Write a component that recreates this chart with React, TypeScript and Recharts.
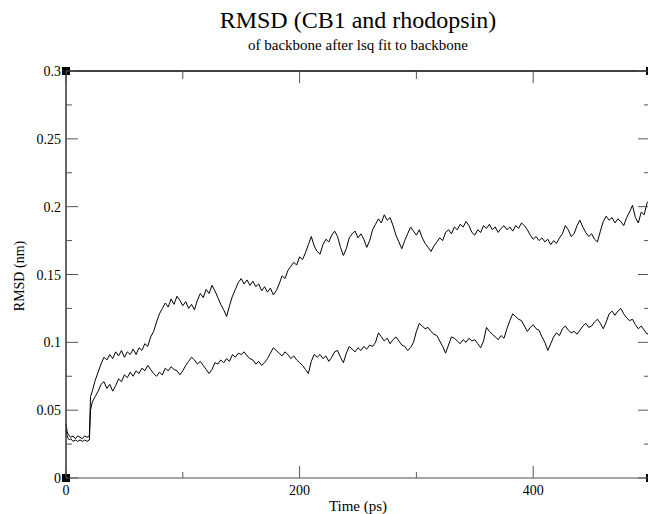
import React from 'react';
import { LineChart, Line, XAxis, YAxis, ReferenceDot } from 'recharts';

// time in ps
const times = [
  0, 1, 2, 3, 4, 6, 8, 10, 12, 14, 16, 18, 20, 21,
  22.5, 25, 27.5, 30, 32.5, 35, 37.5, 40, 42.5, 45, 47.5, 50, 52.5, 55, 57.5, 60,
  62.5, 65, 67.5, 70, 72.5, 75, 77.5, 80, 82.5, 85, 87.5, 90, 92.5, 95, 97.5, 100,
  102.5, 105, 107.5, 110, 112.5, 115, 117.5, 120, 122.5, 125, 127.5, 130, 132.5, 135, 137.5, 140,
  142.5, 145, 147.5, 150, 152.5, 155, 157.5, 160, 162.5, 165, 167.5, 170, 172.5, 175, 177.5, 180,
  182.5, 185, 187.5, 190, 192.5, 195, 197.5, 200, 202.5, 205, 207.5, 210, 212.5, 215, 217.5, 220,
  222.5, 225, 227.5, 230, 232.5, 235, 237.5, 240, 242.5, 245, 247.5, 250, 252.5, 255, 257.5, 260,
  262.5, 265, 267.5, 270, 272.5, 275, 277.5, 280, 282.5, 285, 287.5, 290, 292.5, 295, 297.5, 300,
  302.5, 305, 307.5, 310, 312.5, 315, 317.5, 320, 322.5, 325, 327.5, 330, 332.5, 335, 337.5, 340,
  342.5, 345, 347.5, 350, 352.5, 355, 357.5, 360, 362.5, 365, 367.5, 370, 372.5, 375, 377.5, 380,
  382.5, 385, 387.5, 390, 392.5, 395, 397.5, 400, 402.5, 405, 407.5, 410, 412.5, 415, 417.5, 420,
  422.5, 425, 427.5, 430, 432.5, 435, 437.5, 440, 442.5, 445, 447.5, 450, 452.5, 455, 457.5, 460,
  462.5, 465, 467.5, 470, 472.5, 475, 477.5, 480, 482.5, 485, 487.5, 490, 492.5, 495, 497.5, 500,
];

// RMSD (nm), upper trace
const rmsdUpper = [
  0.04, 0.034, 0.032, 0.031, 0.03, 0.031, 0.029, 0.031, 0.03, 0.029, 0.031, 0.03, 0.031, 0.06,
  0.064, 0.072, 0.078, 0.084, 0.089, 0.087, 0.091, 0.088, 0.093, 0.09, 0.094, 0.089, 0.093, 0.091, 0.095, 0.091,
  0.096, 0.094, 0.099, 0.097, 0.104, 0.108, 0.115, 0.121, 0.125, 0.129, 0.126, 0.132, 0.128, 0.134, 0.131, 0.127,
  0.13, 0.125, 0.128, 0.124, 0.131, 0.136, 0.133, 0.139, 0.136, 0.142, 0.138, 0.133, 0.128, 0.124, 0.119, 0.127,
  0.134, 0.139, 0.144, 0.147, 0.143, 0.146, 0.142, 0.145, 0.141, 0.143, 0.138, 0.141, 0.137, 0.14, 0.135, 0.138,
  0.143, 0.149, 0.147, 0.153, 0.156, 0.159, 0.157, 0.163, 0.161, 0.166, 0.172, 0.178, 0.171, 0.167, 0.165, 0.172,
  0.176, 0.174, 0.179, 0.182, 0.178, 0.17, 0.164, 0.169, 0.177, 0.18, 0.182, 0.177, 0.18, 0.176, 0.17, 0.175,
  0.183, 0.187, 0.191, 0.188, 0.194, 0.19, 0.192, 0.186, 0.179, 0.174, 0.169, 0.175, 0.18, 0.185, 0.182, 0.179,
  0.183, 0.177, 0.173, 0.17, 0.167, 0.171, 0.174, 0.177, 0.175, 0.181, 0.183, 0.18, 0.185, 0.183, 0.187, 0.185,
  0.189, 0.186, 0.181, 0.179, 0.183, 0.181, 0.186, 0.184, 0.187, 0.183, 0.185, 0.181, 0.184, 0.186, 0.183, 0.185,
  0.182, 0.186, 0.184, 0.188, 0.186, 0.183, 0.179, 0.176, 0.178, 0.175, 0.177, 0.174, 0.176, 0.172, 0.175, 0.173,
  0.177, 0.18, 0.186, 0.183, 0.178, 0.18, 0.186, 0.19, 0.185, 0.181, 0.178, 0.18, 0.176, 0.174, 0.182, 0.189,
  0.193, 0.19, 0.192, 0.188, 0.191, 0.189, 0.186, 0.192, 0.196, 0.201, 0.192, 0.188, 0.196, 0.194, 0.203, 0.205,
];

// RMSD (nm), lower trace
const rmsdLower = [
  0.036, 0.031, 0.029, 0.028, 0.029, 0.027, 0.028, 0.027, 0.028, 0.027, 0.028, 0.027, 0.028, 0.05,
  0.056, 0.06, 0.064, 0.069, 0.071, 0.066, 0.069, 0.064, 0.068, 0.073, 0.071, 0.076, 0.074, 0.078, 0.075, 0.079,
  0.077, 0.081, 0.079, 0.083, 0.08, 0.077, 0.075, 0.078, 0.076, 0.081, 0.079, 0.082, 0.08, 0.079, 0.076, 0.079,
  0.083, 0.086, 0.089, 0.087, 0.084, 0.086, 0.083, 0.08, 0.077, 0.08, 0.085, 0.084, 0.087, 0.085, 0.088, 0.086,
  0.091, 0.089, 0.092, 0.091, 0.093, 0.09, 0.088, 0.087, 0.084, 0.086, 0.083, 0.085, 0.088, 0.092, 0.096, 0.094,
  0.092, 0.09, 0.093, 0.091, 0.088, 0.09, 0.087, 0.085, 0.083, 0.08, 0.077, 0.086, 0.091, 0.089, 0.091, 0.088,
  0.09, 0.086, 0.089, 0.093, 0.094, 0.089, 0.085, 0.092, 0.097, 0.095, 0.093, 0.096, 0.094, 0.097, 0.095, 0.098,
  0.097, 0.1, 0.107, 0.104, 0.101, 0.103, 0.099, 0.102, 0.104, 0.101, 0.098, 0.097, 0.094, 0.096, 0.1, 0.108,
  0.114, 0.112, 0.11, 0.111, 0.108, 0.106, 0.105, 0.101, 0.097, 0.092, 0.098, 0.104, 0.103, 0.101, 0.099, 0.102,
  0.1, 0.103, 0.101, 0.102, 0.099, 0.096, 0.101, 0.111, 0.108, 0.106, 0.104, 0.102, 0.105, 0.103, 0.11, 0.116,
  0.121, 0.119, 0.117, 0.116, 0.112, 0.108, 0.111, 0.113, 0.11, 0.109, 0.104, 0.1, 0.094, 0.099, 0.104, 0.107,
  0.105, 0.11, 0.112, 0.109, 0.107, 0.108, 0.106, 0.109, 0.112, 0.114, 0.111, 0.112, 0.115, 0.117, 0.114, 0.11,
  0.115, 0.121, 0.123, 0.12, 0.123, 0.125, 0.121, 0.118, 0.116, 0.117, 0.113, 0.11, 0.112, 0.109, 0.106, 0.108,
];

const xTicks = [0, 100, 200, 300, 400, 500];
const xLabels = [0, 200, 400];
const yTicks = [0, 0.025, 0.05, 0.075, 0.1, 0.125, 0.15, 0.175, 0.2, 0.225, 0.25, 0.275, 0.3];

const data = times.map((t, i) => ({ t, a: rmsdUpper[i], b: rmsdLower[i] }));

const FONT = '"Liberation Serif", "DejaVu Serif", serif';
const MARGIN = 5;

const isMajorY = (v: number) => Math.abs(v / 0.05 - Math.round(v / 0.05)) < 1e-6;
const fmtY = (v: number) => (v === 0 ? '0' : String(parseFloat(v.toFixed(3))));

const LeftTick = (props: any) => {
  const { x, y, payload } = props;
  const ax = x + MARGIN;
  const major = isMajorY(payload.value);
  return (
    <g>
      <line x1={ax} x2={ax + (major ? 12 : 6)} y1={y} y2={y} stroke="#555" strokeWidth={1} />
      {major && (
        <text x={x} y={y} dy={5} textAnchor="end" fontFamily={FONT} fontSize={14} fill="#000">
          {fmtY(payload.value)}
        </text>
      )}
    </g>
  );
};

const RightTick = (props: any) => {
  const { x, y, payload } = props;
  const ax = x - MARGIN;
  const major = isMajorY(payload.value);
  return <line x1={ax} x2={ax - (major ? 12 : 6)} y1={y} y2={y} stroke="#555" strokeWidth={1} />;
};

const BottomTick = (props: any) => {
  const { x, y, payload } = props;
  const ay = y - MARGIN;
  const major = xLabels.includes(payload.value);
  return (
    <g>
      <line x1={x} x2={x} y1={ay} y2={ay - (major ? 12 : 6)} stroke="#555" strokeWidth={1} />
      {major && (
        <text x={x} y={ay} dy={17} textAnchor="middle" fontFamily={FONT} fontSize={14} fill="#000">
          {payload.value}
        </text>
      )}
    </g>
  );
};

const TopTick = (props: any) => {
  const { x, y, payload } = props;
  const ay = y + MARGIN;
  const major = xLabels.includes(payload.value);
  return <line x1={x} x2={x} y1={ay} y2={ay + (major ? 12 : 8)} stroke="#555" strokeWidth={1} />;
};

const Corner = (props: any) => (
  <rect x={props.cx - 4} y={props.cy - 4} width={8} height={8} fill="#000" />
);

export default function App() {
  return (
    <div
      style={{
        position: 'absolute',
        left: 0,
        top: 0,
        width: 648,
        height: 514,
        overflow: 'hidden',
        background: '#fff',
        fontFamily: FONT,
      }}
    >
      <div style={{ position: 'absolute', left: 0, width: 716, top: 7, textAlign: 'center', fontSize: 24 }}>
        RMSD (CB1 and rhodopsin)
      </div>
      <div style={{ position: 'absolute', left: 0, width: 716, top: 37, textAlign: 'center', fontSize: 15 }}>
        of backbone after lsq fit to backbone
      </div>
      <div
        style={{
          position: 'absolute',
          left: 20,
          top: 276,
          fontSize: 14,
          whiteSpace: 'nowrap',
          transform: 'translate(-50%, -50%) rotate(-90deg)',
        }}
      >
        RMSD (nm)
      </div>
      <div style={{ position: 'absolute', left: 0, width: 716, top: 498, textAlign: 'center', fontSize: 15 }}>
        Time (ps)
      </div>
      <div style={{ position: 'absolute', left: 0, top: 0 }}>
        <LineChart width={660} height={514} data={data} margin={{ top: 61, right: 5, bottom: 6, left: 26 }}>
          <XAxis
            xAxisId="bottom"
            dataKey="t"
            type="number"
            domain={[0, 500]}
            ticks={xTicks}
            interval={0}
            height={30}
            tickSize={0}
            tickMargin={MARGIN}
            tickLine={false}
            axisLine={{ stroke: '#888', strokeWidth: 1.5 }}
            tick={<BottomTick />}
          />
          <XAxis
            xAxisId="top"
            orientation="top"
            dataKey="t"
            type="number"
            domain={[0, 500]}
            ticks={xTicks}
            interval={0}
            height={10}
            tickSize={0}
            tickMargin={MARGIN}
            tickLine={false}
            axisLine={{ stroke: '#000', strokeWidth: 1.5 }}
            tick={<TopTick />}
          />
          <YAxis
            yAxisId="left"
            type="number"
            domain={[0, 0.3]}
            ticks={yTicks}
            interval={0}
            width={40}
            tickSize={0}
            tickMargin={MARGIN}
            tickLine={false}
            axisLine={{ stroke: '#333', strokeWidth: 1.5 }}
            tick={<LeftTick />}
          />
          <YAxis
            yAxisId="right"
            orientation="right"
            type="number"
            domain={[0, 0.3]}
            ticks={yTicks}
            interval={0}
            width={5}
            tickSize={0}
            tickMargin={MARGIN}
            tickLine={false}
            axisLine={{ stroke: '#333', strokeWidth: 1.5 }}
            tick={<RightTick />}
          />
          <Line
            xAxisId="bottom"
            yAxisId="left"
            dataKey="a"
            stroke="#000"
            strokeWidth={1}
            dot={false}
            isAnimationActive={false}
          />
          <Line
            xAxisId="bottom"
            yAxisId="left"
            dataKey="b"
            stroke="#000"
            strokeWidth={1}
            dot={false}
            isAnimationActive={false}
          />
          <Line
            xAxisId="top"
            yAxisId="right"
            dataKey="b"
            stroke="none"
            dot={false}
            activeDot={false}
            isAnimationActive={false}
          />
          {[
            [0, 0],
            [0, 0.3],
            [500, 0.3],
            [500, 0],
          ].map(([cx, cy]) => (
            <ReferenceDot
              key={`${cx}-${cy}`}
              xAxisId="bottom"
              yAxisId="left"
              x={cx}
              y={cy}
              r={4}
              shape={<Corner />}
              ifOverflow="visible"
            />
          ))}
        </LineChart>
      </div>
    </div>
  );
}
